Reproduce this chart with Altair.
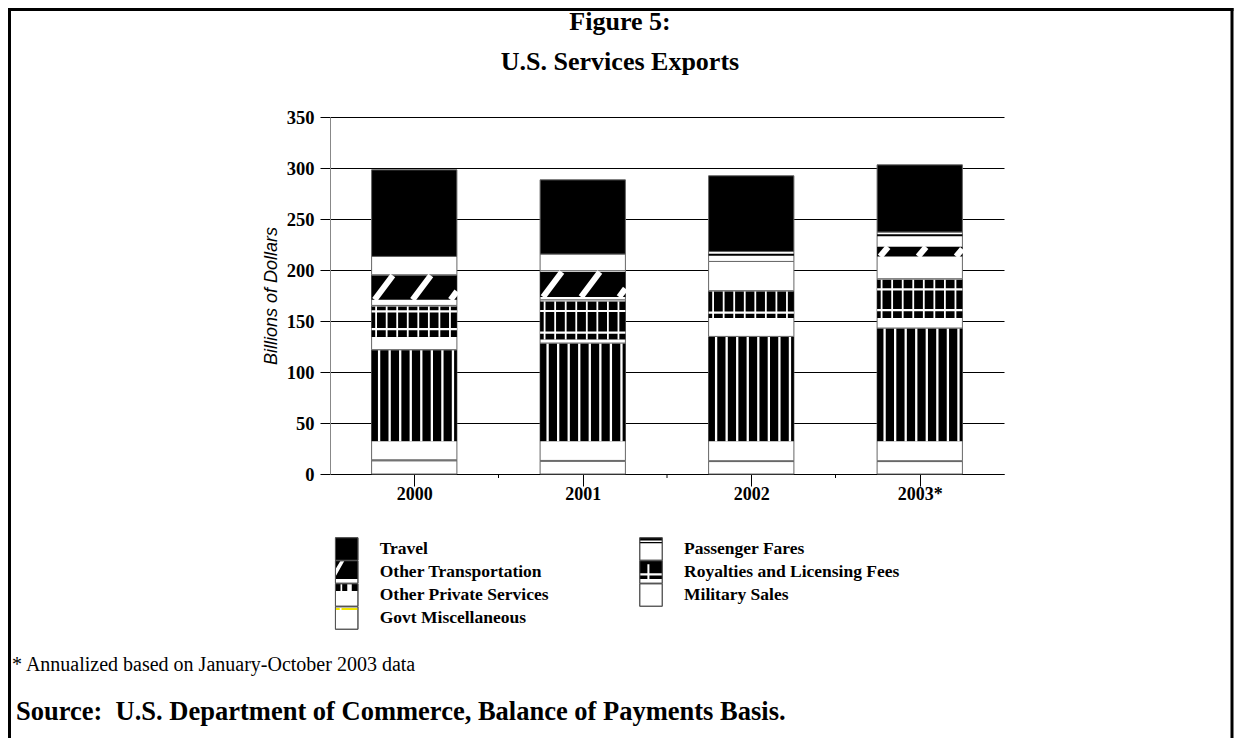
import json
import altair as alt
import pandas as pd

# ---------------- values (billions of dollars) ----------------
years = ["2000", "2001", "2002", "2003*"]
military_sales = [13.0, 12.5, 12.2, 12.2]
govt_misc = [0.9, 0.8, 0.8, 0.8]
other_private = [108.0, 115.1, 121.9, 130.1]
royalties = [43.4, 42.4, 44.8, 48.3]
other_transport = [30.0, 28.5, 28.7, 31.1]
passenger_fares = [18.0, 16.3, 9.8, 14.7]
travel = [84.9, 72.8, 74.2, 65.9]

# stacking order, bottom to top
stack_names = ["Military Sales", "Govt Miscellaneous", "Other Private Services",
               "Royalties and Licensing Fees", "Other Transportation",
               "Passenger Fares", "Travel"]
stack_values = [military_sales, govt_misc, other_private, royalties,
                other_transport, passenger_fares, travel]

# legend order (row by row, two columns)
legend_names = ["Travel", "Passenger Fares", "Other Transportation",
                "Royalties and Licensing Fees", "Other Private Services",
                "Military Sales", "Govt Miscellaneous"]

# where the hatch fills of the original come out dark (data units, per bar)
ops_hatch_floor = 32.0
roy_hatch = [[134.4, 164.3], [131.8, 169.2], [152.9, 179.0], [152.9, 190.4]]
roy_hatch_rows = [[159.4, 142.0], [159.8, 138.7], [158.2], [181.1, 160.7]]
ot_hatch = [[170.8, 194.6], [173.5, 198.0], [], [213.3, 222.5]]
fares_hatch = [False, False, True, True]

title_lines = ["Figure 5:", "U.S. Services Exports"]
y_title = "Billions of Dollars"
footnote = "* Annualized based on January-October 2003 data"
source = "Source:\u00a0 U.S. Department of Commerce, Balance of Payments Basis."

# ---------------- layout ----------------
SERIF = "Liberation Serif"
SANS = "Liberation Sans"
W_PLOT, H_PLOT = 674, 357
PAD_L, PAD_T = 322, 109
TOTAL_W, TOTAL_H = 1226, 730
Y_MAX = 350
N = len(years)
PX_X = W_PLOT / N
PX_Y = H_PLOT / Y_MAX
BAR_W_PX = 85.3
BAR_HALF = BAR_W_PX / 2 / PX_X


def left_edge(i):
    return i - BAR_HALF


def px_to_x(i, px):
    return left_edge(i) + px / PX_X


# stacked segments
seg_rows = []
tops = {}
for i in range(N):
    base = 0.0
    for name, vals in zip(stack_names, stack_values):
        v = vals[i]
        seg_rows.append(dict(series=name, xa=i - BAR_HALF, xb=i + BAR_HALF,
                             ya=base, yb=base + v))
        tops[(name, i)] = (base, base + v)
        base += v
seg_df = pd.DataFrame(seg_rows)

# dark parts of hatched segments
dark_rows = []
ops_stripes = []
roy_vert = []
roy_rows = []
ot_diag = []
fares_lines = []
for i in range(N):
    lo, hi = tops[("Other Private Services", i)]
    dark_rows.append(dict(xa=i - BAR_HALF, xb=i + BAR_HALF, ya=ops_hatch_floor, yb=hi - 0.6))
    for k in range(8):
        ops_stripes.append(dict(xa=px_to_x(i, 7.5 + 10.55 * k), ya=ops_hatch_floor, yb=hi - 0.6))
    rlo, rhi = roy_hatch[i]
    dark_rows.append(dict(xa=i - BAR_HALF, xb=i + BAR_HALF, ya=rlo, yb=rhi))
    for k in range(8):
        roy_vert.append(dict(xa=px_to_x(i, 4.5 + 10.55 * k), ya=rlo, yb=rhi))
    for r in roy_hatch_rows[i]:
        roy_rows.append(dict(xa=i - BAR_HALF, xb=i + BAR_HALF, ya=r))
    if ot_hatch[i]:
        olo, ohi = ot_hatch[i]
        dark_rows.append(dict(xa=i - BAR_HALF, xb=i + BAR_HALF, ya=olo, yb=ohi))
        h_px = (ohi - olo) * PX_Y
        run = max(0.75 * h_px, 8.0)
        for k in range(-1, 4):
            xs = 3 + 38 * k
            xe = xs + run
            if xe <= 0 or xs >= BAR_W_PX:
                continue
            t0 = max(0.0, (0 - xs) / run)
            t1 = min(1.0, (BAR_W_PX - xs) / run)
            ot_diag.append(dict(xa=px_to_x(i, xs + t0 * run), xb=px_to_x(i, xs + t1 * run),
                                ya=olo + t0 * (ohi - olo), yb=olo + t1 * (ohi - olo)))
    if fares_hatch[i]:
        flo, fhi = tops[("Passenger Fares", i)]
        fares_lines.append(dict(xa=i - BAR_HALF, xb=i + BAR_HALF, ya=fhi - 3.2))

minor_ticks = pd.DataFrame({"xa": [i + 0.5 for i in range(N - 1)]})

# ---------------- scales & axes ----------------
X_SCALE = alt.Scale(domain=[-0.5, N - 0.5], nice=False, zero=False)
Y_SCALE = alt.Scale(domain=[0, Y_MAX], nice=False, zero=True)
X_AXIS = alt.Axis(values=list(range(N)), labelExpr=f"{json.dumps(years)}[datum.value]",
                  title=None, grid=False, tickSize=12, tickColor="black", tickWidth=1,
                  domainColor="black", domainWidth=1, labelFont=SERIF, labelFontSize=18,
                  labelFontWeight="bold", labelColor="black", labelPadding=-1, labelAngle=0)
Y_AXIS = alt.Axis(values=list(range(0, Y_MAX + 1, 50)), title=y_title, grid=True,
                  gridColor="black", gridWidth=1, gridOpacity=1, tickSize=10,
                  tickColor="black", tickWidth=1, domainColor="#888888",
                  labelFont=SERIF, labelFontSize=18.5, labelFontWeight="bold",
                  labelColor="black", labelPadding=6, titleFont=SANS, titleFontSize=18,
                  titleFontStyle="italic", titleFontWeight="normal", titleColor="black",
                  titlePadding=6)


def X(f):
    return alt.X(f, type="quantitative", scale=X_SCALE, axis=X_AXIS)


def Y(f):
    return alt.Y(f, type="quantitative", scale=Y_SCALE, axis=Y_AXIS)


seg_colors = ["black" if n == "Travel" else "white" for n in stack_names]

segments = alt.Chart(seg_df).mark_rect(stroke="#666666", strokeWidth=1).encode(
    x=X("xa"), x2="xb", y=Y("ya"), y2="yb",
    color=alt.Color("series:N", scale=alt.Scale(domain=stack_names, range=seg_colors), legend=None),
)
dark = alt.Chart(pd.DataFrame(dark_rows)).mark_rect(color="black", strokeWidth=0).encode(
    x=X("xa"), x2="xb", y=Y("ya"), y2="yb")
ops_l = alt.Chart(pd.DataFrame(ops_stripes)).mark_rule(color="white", strokeWidth=2.3).encode(
    x=X("xa"), y=Y("ya"), y2="yb")
roy_v = alt.Chart(pd.DataFrame(roy_vert)).mark_rule(color="white", strokeWidth=1.8).encode(
    x=X("xa"), y=Y("ya"), y2="yb")
roy_h = alt.Chart(pd.DataFrame(roy_rows)).mark_rule(color="white", strokeWidth=2.2).encode(
    x=X("xa"), x2="xb", y=Y("ya"))
ot_d = alt.Chart(pd.DataFrame(ot_diag)).mark_rule(color="white", strokeWidth=6).encode(
    x=X("xa"), x2="xb", y=Y("ya"), y2="yb")
fare_l = alt.Chart(pd.DataFrame(fares_lines)).mark_rule(color="black", strokeWidth=2).encode(
    x=X("xa"), x2="xb", y=Y("ya"))
minor = alt.Chart(minor_ticks).mark_rule(color="black", strokeWidth=1).encode(
    x=X("xa"), y=alt.value(H_PLOT), y2=alt.value(H_PLOT + 4))


def text_layer(txt, x, y, size, weight="bold", align="center", font=SERIF):
    return alt.Chart(pd.DataFrame({"t": [txt]})).mark_text(
        font=font, fontSize=size, fontWeight=weight, align=align,
        baseline="alphabetic", color="black").encode(
        x=alt.value(x), y=alt.value(y), text="t:N")


title1 = text_layer(title_lines[0], 290, -87, 26)
title2 = text_layer(title_lines[1], 290, -47, 26)
foot1 = text_layer(footnote, -318, 554, 20, weight="normal", align="left")
foot2 = text_layer(source, -314, 603, 26.5, align="left")

one = pd.DataFrame({"a": [0]})
fr_right = TOTAL_W - PAD_L - 2
fr_bottom = TOTAL_H - PAD_T
frame_l = alt.Chart(one).mark_rule(color="black", strokeWidth=3).encode(
    x=alt.value(-PAD_L + 1.5), y=alt.value(-PAD_T), y2=alt.value(fr_bottom))
frame_t = alt.Chart(one).mark_rule(color="black", strokeWidth=3).encode(
    x=alt.value(-PAD_L), x2=alt.value(fr_right + 1.5), y=alt.value(-PAD_T + 1.5))
frame_r = alt.Chart(one).mark_rule(color="black", strokeWidth=3).encode(
    x=alt.value(fr_right), y=alt.value(-PAD_T), y2=alt.value(fr_bottom))

bars = alt.layer(segments, dark, ops_l, roy_v, roy_h, ot_d, fare_l, minor,
                 title1, title2, foot1, foot2, frame_l, frame_t, frame_r)

# ---------------- legend ----------------
leg_df = pd.DataFrame({"name": legend_names,
                       "col": [i % 2 for i in range(len(legend_names))],
                       "row": [i // 2 for i in range(len(legend_names))]})
LX = alt.Scale(domain=[0, 1], range=[16.7, 321.0])
LY = alt.Scale(domain=[0, 3], range=[432.0, 501.0])
lx = alt.X("col:Q", scale=LX, axis=None)
ly = alt.Y("row:Q", scale=LY, axis=None)
SW = 22.5


def rects(lst):
    return " ".join(f"M{a},{b}H{c}V{d}H{a}Z" for a, b, c, d in lst)


swatch_paths = {
    "Travel": rects([(-1, -1, 1, 1)]),
    "Passenger Fares": rects([(-1, -1, 1, -0.76), (-1, -0.62, 1, -0.52)]),
    "Other Transportation": "M-1,-1L-0.55,-1L-1,-0.25Z M-0.2,-1L1,-1L1,0.62L-1,0.62L-1,0.42Z",
    "Royalties and Licensing Fees": rects([(-1, -1, 1, -0.68), (-1, -0.68, -0.32, 0.12),
                                           (-0.14, -0.68, 1, 0.12), (-1, 0.3, -0.32, 0.62),
                                           (-0.14, 0.3, 1, 0.62)]),
    "Other Private Services": rects([(-1, -1, -0.55, -0.36), (-0.4, -1, 0.05, -0.36),
                                     (0.45, -1, 1, -0.36)]),
    "Govt Miscellaneous": rects([(-1, -0.9, -0.62, -0.72), (-0.46, -0.9, 1, -0.72)]),
}
pat_names = [n for n in legend_names if n in swatch_paths]
pat_colors = ["#f2e600" if n == "Govt Miscellaneous" else "black" for n in pat_names]

sw_bg = alt.Chart(leg_df).mark_point(shape="square", size=SW * SW, filled=True, fill="white",
                                     stroke="#555555", strokeWidth=1, opacity=1).encode(x=lx, y=ly)
sw_pat = alt.Chart(leg_df[leg_df["name"].isin(pat_names)]).mark_point(
    filled=True, size=SW * SW, opacity=1, strokeWidth=0).encode(
    x=lx, y=ly,
    shape=alt.Shape("name:N", scale=alt.Scale(domain=pat_names,
                                              range=[swatch_paths[n] for n in pat_names]), legend=None),
    color=alt.Color("name:N", scale=alt.Scale(domain=pat_names, range=pat_colors), legend=None),
)
sw_fg = alt.Chart(leg_df).mark_point(shape="square", size=SW * SW, filled=False, color="#555555",
                                     strokeWidth=1, opacity=1).encode(x=lx, y=ly)
sw_txt = alt.Chart(leg_df).mark_text(align="left", baseline="middle", dx=33, font=SERIF,
                                     fontSize=17.5, fontWeight="bold", color="black").encode(
    x=lx, y=ly, text="name:N")

legend = alt.layer(sw_bg, sw_pat, sw_fg, sw_txt)

chart = alt.layer(bars, legend).resolve_scale(
    x="independent", y="independent", color="independent"
).properties(
    width=W_PLOT, height=H_PLOT,
    autosize=alt.AutoSizeParams(type="none"),
    padding={"left": PAD_L, "top": PAD_T, "right": TOTAL_W - PAD_L - W_PLOT,
             "bottom": TOTAL_H - PAD_T - H_PLOT},
    background="white",
).configure_view(stroke=None)

chart.save("out.html", embed_options={"renderer": "svg", "actions": False})
